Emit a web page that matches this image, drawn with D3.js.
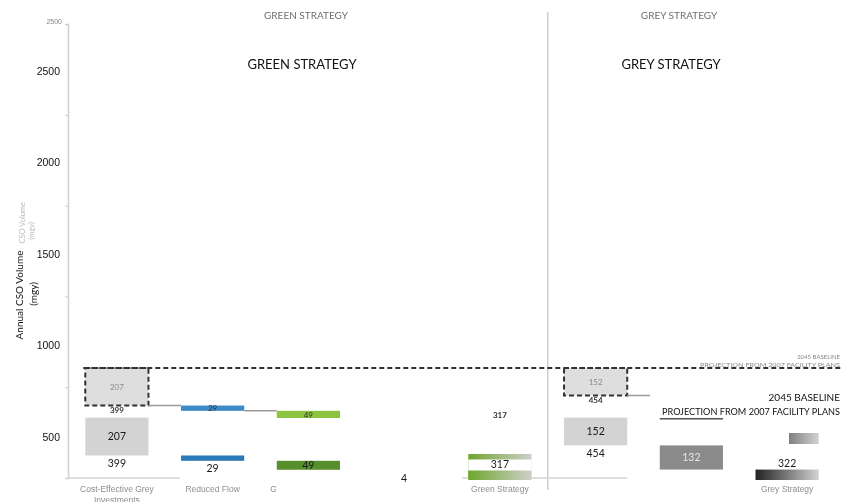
<!DOCTYPE html>
<html>
<head>
<meta charset="utf-8">
<script src="https://cdn.jsdelivr.net/npm/d3@7"></script>
<style>
  body { margin: 0; background: #fff; }
  svg { display: block; font-family: Lato, "Open Sans", sans-serif; }
</style>
</head>
<body>
<svg id="chart" width="848" height="502"></svg>
<script>
// data
const categories = ["Cost-Effective Grey Investments", "Reduced Flow", "Green Infrastructure", "Other",
  "Green Strategy", "Grey Investments", "Additional Grey", "Grey Strategy"];
const axisLabels = ["Cost-Effective Grey|Investments", "Reduced Flow", "Green Infrastructure", "",
  "Green Strategy", "", "", "Grey Strategy"];
const baseline = 606;
const greenSteps = [207, 29, 49, 4];
const greenTotal = 317;
const greySteps = [152, 132];
const greyTotal = 322;
const yTicks = [500, 1000, 1500, 2000, 2500];
const bgTicks = [0, 500, 1000, 1500, 2000, 2500];
// labels of the faint original that are hidden under the white boxes
const hiddenBgLabels = ["Additional Grey", "Grey Strategy"];

const ovFill = ["#d3d3d3", "#2a79b9", "#578f2d", "#ffffff", "url(#gGreen)", "#d3d3d3", "#8b8b8b", "url(#gGrey)"];
const bgFill = ["#dedede", "#3a8bc9", "#8cc43f", "#ffffff", "url(#gGreen)", "#dedede", "#555555", "url(#gGrey)"];

function waterfall(cats, steps, total) {
  let top = baseline;
  const rows = steps.map((v, i) => {
    const r = { cat: cats[i], y0: top - v, y1: top, v: v, first: i === 0 };
    top -= v;
    return r;
  });
  rows.push({ cat: cats[steps.length], y0: 0, y1: total, v: total, total: true });
  return rows;
}
const bars = waterfall(categories.slice(0, 5), greenSteps, greenTotal)
  .concat(waterfall(categories.slice(5), greySteps, greyTotal));
bars.forEach((d, i) => { d.i = i; });

const svg = d3.select('#chart');

const xScale = d3.scaleBand().domain(categories).range([69, 835]).paddingInner(0.34).paddingOuter(0.17);
const yBg = d3.scaleLinear().domain([0, 2500]).range([478, 24]);
const yOv = d3.scaleLinear().domain([0, 2500]).range([528.5, 71]);
const bw = xScale.bandwidth();
const sepX = (xScale('Green Strategy') + bw + xScale('Grey Investments')) / 2;

const defs = svg.append('defs');
const gg = defs.append('linearGradient').attr('id', 'gGreen');
gg.append('stop').attr('offset', '0%').attr('stop-color', '#6ea62e');
gg.append('stop').attr('offset', '100%').attr('stop-color', '#cfcfca');
const gy = defs.append('linearGradient').attr('id', 'gGrey');
gy.append('stop').attr('offset', '0%').attr('stop-color', '#222');
gy.append('stop').attr('offset', '100%').attr('stop-color', '#d2d2d2');
defs.append('filter').attr('id', 'soft').append('feGaussianBlur').attr('stdDeviation', 0.45);
defs.append('clipPath').attr('id', 'ovClip').append('rect')
  .attr('x', 0).attr('y', 0).attr('width', 848).attr('height', 480);

// ---------- background (faint original) layer ----------
const bg = svg.append('g').attr('filter', 'url(#soft)');

bg.append('line')
  .attr('x1', sepX).attr('x2', sepX).attr('y1', 12).attr('y2', 490)
  .attr('stroke', '#cfcfcf').attr('stroke-width', 1.5);

const bgAxis = bg.append('g').attr('transform', 'translate(68,0)')
  .call(d3.axisLeft(yBg).tickValues(bgTicks).tickSize(3)
    .tickFormat(d => d === 2500 ? String(d) : ''));
bgAxis.select('.domain').attr('stroke', '#cfcfcf').attr('stroke-width', 1.5);
bgAxis.selectAll('.tick line').attr('stroke', '#cfcfcf');
bgAxis.selectAll('.tick text').attr('fill', '#888').style('font-size', '7px').attr('dy', '-0.1em');

const bgX = bg.append('g').attr('transform', 'translate(0,478)')
  .call(d3.axisBottom(xScale).tickSize(0).tickPadding(11).tickFormat(''));
bgX.select('.domain').attr('stroke', '#d5d5d5').attr('stroke-width', 1.5)
  .attr('d', 'M68,0H845');
bgX.selectAll('.tick text').each(function (d, i) {
  const lines = axisLabels[i].split('|');
  const t = d3.select(this).attr('fill', '#8d8d8d').style('font-size', '8.5px');
  lines.forEach((s, k) => t.append('tspan').attr('x', 0).attr('dy', k ? '1.3em' : '0.35em').text(s));
});

bg.selectAll('.bgbar').data(bars).join('rect')
  .attr('class', 'bgbar')
  .attr('x', d => xScale(d.cat))
  .attr('width', bw)
  .attr('y', d => yBg(d.y1))
  .attr('height', d => yBg(d.y0) - yBg(d.y1))
  .attr('fill', d => bgFill[d.i])
  .attr('stroke', d => d.first ? '#333' : 'none')
  .attr('stroke-width', 2)
  .attr('stroke-dasharray', '5,3');

// connectors between waterfall steps
const links = bars.filter((d, i) => !d.total && bars[i + 1] && !bars[i + 1].total);
bg.selectAll('.link').data(links).join('line')
  .attr('x1', d => xScale(d.cat) + bw)
  .attr('x2', d => xScale(bars[d.i + 1].cat))
  .attr('y1', d => yBg(d.y0)).attr('y2', d => yBg(d.y0))
  .attr('stroke', '#9a9a9a').attr('stroke-width', 1.5);

bg.append('line')
  .attr('x1', xScale(categories[0]) - 2).attr('x2', 843)
  .attr('y1', yBg(baseline)).attr('y2', yBg(baseline))
  .attr('stroke', '#333').attr('stroke-width', 2).attr('stroke-dasharray', '5,3');

const bgVisible = bars.filter(d => !hiddenBgLabels.includes(d.cat));
bg.selectAll('.bglab').data(bgVisible.filter(d => !d.total && d.v > 10)).join('text')
  .attr('x', d => xScale(d.cat) + bw / 2)
  .attr('y', d => (yBg(d.y0) + yBg(d.y1)) / 2)
  .attr('dy', '0.35em').attr('text-anchor', 'middle')
  .attr('fill', d => d.first ? '#8a8a8a' : '#333')
  .style('font-size', '8px')
  .text(d => d.v);
bg.selectAll('.bgsub').data(bgVisible.filter(d => d.first)).join('text')
  .attr('x', d => xScale(d.cat) + bw / 2)
  .attr('y', d => yBg(d.y0) + 7)
  .attr('text-anchor', 'middle').attr('fill', '#333')
  .style('font-size', '8px').style('font-weight', 'bold')
  .text(d => d.y0);
bg.selectAll('.bgtot').data(bgVisible.filter(d => d.total)).join('text')
  .attr('x', d => xScale(d.cat) + bw / 2)
  .attr('y', d => yBg(d.y1) - 2)
  .attr('text-anchor', 'middle').attr('fill', '#333')
  .style('font-size', '8px').style('font-weight', 'bold')
  .text(d => d.v);

bg.append('text').attr('x', 306).attr('y', 19).attr('text-anchor', 'middle')
  .attr('fill', '#6f6f6f').style('font-size', '10px').text('GREEN STRATEGY');
bg.append('text').attr('x', 679).attr('y', 19).attr('text-anchor', 'middle')
  .attr('fill', '#6f6f6f').style('font-size', '10px').text('GREY STRATEGY');
bg.append('text').attr('x', 840).attr('y', 359).attr('text-anchor', 'end')
  .attr('fill', '#888').style('font-size', '6px').text('2045 BASELINE');
bg.append('text').attr('x', 840).attr('y', 367).attr('text-anchor', 'end')
  .attr('fill', '#888').style('font-size', '6px')
  .attr('textLength', 140).attr('lengthAdjust', 'spacingAndGlyphs')
  .text('PROJECTION FROM 2007 FACILITY PLANS');
bg.append('text').attr('transform', 'translate(25,202) rotate(-90)')
  .attr('text-anchor', 'end').attr('fill', '#bbb').style('font-size', '7.5px')
  .text('Annual CSO Volume');
bg.append('text').attr('transform', 'translate(34,222) rotate(-90)')
  .attr('text-anchor', 'end').attr('fill', '#bbb').style('font-size', '7.5px')
  .text('(mgy)');

// ---------- white boxes laid over the original ----------
const masks = [
  [8, 246, 34, 100], [150, 418, 395, 36], [180, 454, 282, 32], [276, 486, 186, 16],
  [650, 386, 198, 32], [627, 420, 221, 13], [730, 417, 118, 16], [627, 433, 162, 13], [627, 444, 221, 42]
];
svg.append('g').selectAll('rect').data(masks).join('rect')
  .attr('x', d => d[0]).attr('y', d => d[1]).attr('width', d => d[2]).attr('height', d => d[3])
  .attr('fill', '#fff');

// ---------- overlay layer ----------
const ov = svg.append('g');

ov.append('text').attr('x', 302).attr('y', 69).attr('text-anchor', 'middle')
  .attr('fill', '#111').style('font-size', '13px').text('GREEN STRATEGY');
ov.append('text').attr('x', 671).attr('y', 69).attr('text-anchor', 'middle')
  .attr('fill', '#111').style('font-size', '13px').text('GREY STRATEGY');

const ovAxis = ov.append('g').attr('transform', 'translate(63,0)')
  .call(d3.axisLeft(yOv).tickValues(yTicks).tickSize(0).tickPadding(3).tickFormat(d3.format('d')));
ovAxis.select('.domain').remove();
ovAxis.selectAll('.tick text').attr('fill', '#111').style('font-size', '10.5px');

ov.append('text').attr('transform', 'translate(23,295) rotate(-90)')
  .attr('text-anchor', 'middle').attr('fill', '#111').style('font-size', '10px')
  .text('Annual CSO Volume');
ov.append('text').attr('transform', 'translate(37,294) rotate(-90)')
  .attr('text-anchor', 'middle').attr('fill', '#111').style('font-size', '10px')
  .text('(mgy)');

const ovBars = ov.append('g').attr('clip-path', 'url(#ovClip)');
ovBars.selectAll('rect').data(bars).join('rect')
  .attr('x', d => xScale(d.cat))
  .attr('width', bw)
  .attr('y', d => yOv(d.y1))
  .attr('height', d => yOv(d.y0) - yOv(d.y1))
  .attr('fill', d => ovFill[d.i]);

// white label box of the green total
const gt = bars.find(d => d.cat === 'Green Strategy');
ov.append('rect')
  .attr('x', xScale(gt.cat)).attr('width', bw)
  .attr('y', yOv(gt.y1) - 11).attr('height', 11).attr('fill', '#fff');

ov.selectAll('.lab').data(bars.filter(d => !d.total)).join('text')
  .attr('x', d => xScale(d.cat) + bw / 2)
  .attr('y', d => (yOv(d.y0) - yOv(d.y1)) < 8 ? yOv(d.y0) + 8 : (yOv(d.y0) + yOv(d.y1)) / 2)
  .attr('dy', '0.35em').attr('text-anchor', 'middle')
  .attr('fill', d => d.cat === 'Additional Grey' ? '#e6e6e6' : '#1a1a1a')
  .style('font-size', '10.5px')
  .text(d => d.v);
ov.selectAll('.sub').data(bars.filter(d => d.first)).join('text')
  .attr('x', d => xScale(d.cat) + bw / 2)
  .attr('y', d => yOv(d.y0) + 8)
  .attr('dy', '0.35em').attr('text-anchor', 'middle').attr('fill', '#1a1a1a')
  .style('font-size', '10.5px')
  .text(d => d.y0);
ov.selectAll('.tot').data(bars.filter(d => d.total)).join('text')
  .attr('x', d => xScale(d.cat) + bw / 2)
  .attr('y', d => yOv(d.y1) - 6)
  .attr('dy', '0.35em').attr('text-anchor', 'middle').attr('fill', '#1a1a1a')
  .style('font-size', '10.5px')
  .text(d => d.v);

ov.append('text').attr('x', 840).attr('y', 401).attr('text-anchor', 'end')
  .attr('fill', '#111').style('font-size', '10px').text('2045 BASELINE');
ov.append('text').attr('x', 840).attr('y', 415).attr('text-anchor', 'end')
  .attr('fill', '#111').style('font-size', '10px')
  .attr('textLength', 178).attr('lengthAdjust', 'spacingAndGlyphs')
  .text('PROJECTION FROM 2007 FACILITY PLANS');
</script>
</body>
</html>
